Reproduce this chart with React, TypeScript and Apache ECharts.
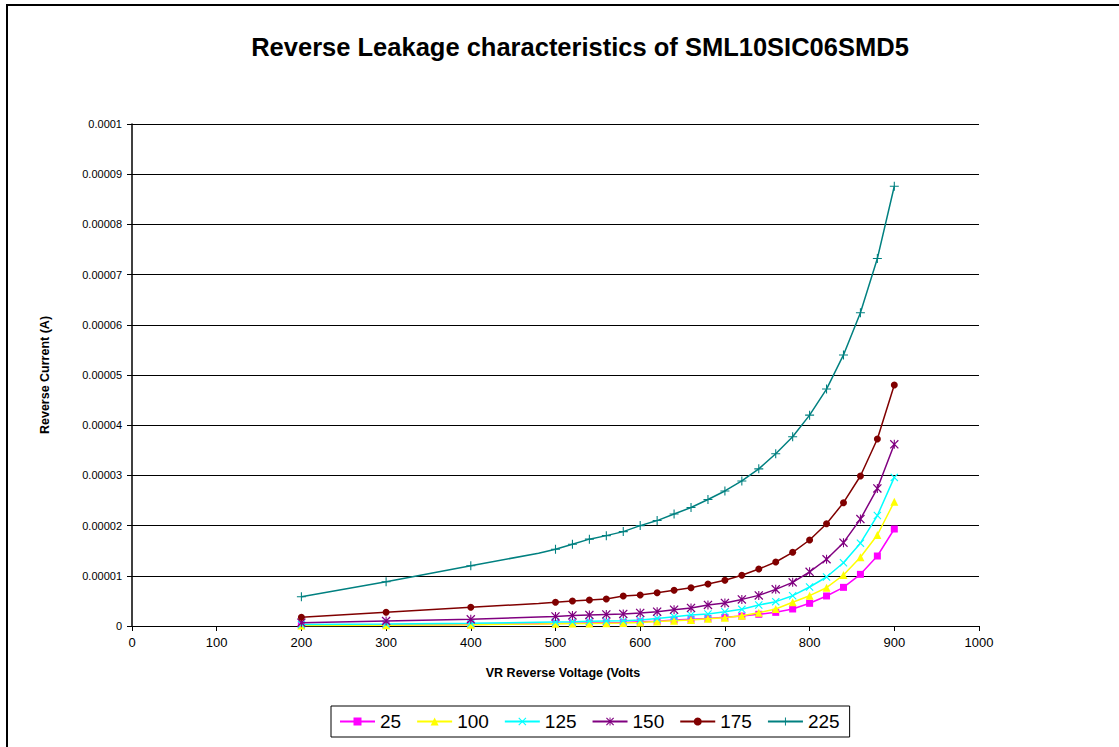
import React, { useEffect, useRef } from "react";
import * as echarts from "echarts";

// Reverse voltage (V); the 480 V point carries no marker in the reference
const voltages = [200, 300, 400, 480, 500, 520, 540, 560, 580, 600, 620, 640, 660, 680, 700, 720, 740, 760, 780, 800, 820, 840, 860, 880, 900];
const hiddenMarkerVoltages = [480];

// Reverse current in microamps (µA) per temperature
const i25 = [0.15, 0.2, 0.3, 0.45, 0.5, 0.55, 0.6, 0.65, 0.7, 0.85, 0.95, 1.2, 1.35, 1.5, 1.73, 1.99, 2.33, 2.72, 3.39, 4.52, 5.98, 7.7, 10.29, 13.94, 19.32];
const i100 = [0.1, 0.15, 0.25, 0.4, 0.45, 0.5, 0.5, 0.55, 0.6, 0.7, 0.9, 1.06, 1.2, 1.46, 1.66, 2.06, 2.66, 3.39, 4.72, 6.04, 7.63, 10.16, 13.68, 18.13, 24.76];
const i125 = [0.3, 0.4, 0.55, 0.75, 0.8, 0.85, 0.95, 1.0, 1.05, 1.2, 1.5, 1.86, 2.19, 2.39, 2.85, 3.32, 4.18, 4.85, 6.04, 7.77, 9.76, 12.6, 16.5, 22.0, 29.6];
const i150 = [0.66, 1.0, 1.33, 1.8, 1.9, 2.1, 2.2, 2.3, 2.4, 2.6, 2.85, 3.25, 3.6, 4.2, 4.6, 5.3, 6.1, 7.3, 8.7, 10.8, 13.3, 16.6, 21.3, 27.4, 36.2];
const i175 = [1.73, 2.73, 3.72, 4.5, 4.72, 4.98, 5.18, 5.38, 5.98, 6.18, 6.64, 7.11, 7.63, 8.37, 9.1, 10.1, 11.35, 12.75, 14.68, 17.13, 20.38, 24.56, 29.88, 37.25, 48.0];
const i225 = [5.84, 8.8, 12.0, 14.5, 15.3, 16.3, 17.3, 18.0, 18.8, 20.0, 21.0, 22.3, 23.6, 25.2, 26.9, 28.9, 31.3, 34.3, 37.7, 42.0, 47.2, 54.0, 62.4, 73.2, 87.6];

const seriesNames = ["25", "100", "125", "150", "175", "225"];
const seriesValues = [i25, i100, i125, i150, i175, i225];
const seriesColors = ["#FF00FF", "#FFFF00", "#00FFFF", "#800080", "#800000", "#008080"];

const X_PATH = "path://M0,1 L1,0 L5,4 L9,0 L10,1 L6,5 L10,9 L9,10 L5,6 L1,10 L0,9 L4,5 Z";
const STAR_PATH = "path://M0,1 L1,0 L5,4 L9,0 L10,1 L6,5 L10,9 L9,10 L5,6 L1,10 L0,9 L4,5 Z M4.4,0 L5.6,0 L5.6,10 L4.4,10 Z";
const PLUS_PATH = "path://M4.4,0 L5.6,0 L5.6,4.4 L10,4.4 L10,5.6 L5.6,5.6 L5.6,10 L4.4,10 L4.4,5.6 L0,5.6 L0,4.4 L4.4,4.4 Z";
const seriesSymbols = ["rect", "triangle", X_PATH, STAR_PATH, "circle", PLUS_PATH];
const seriesSymbolSizes = [7, 8, 8, 9, 7, 9];

const FONT = "'Liberation Sans', Arial, sans-serif";

export default function App() {
  const ref = useRef<HTMLDivElement>(null);
  useEffect(() => {
    if (!ref.current) return;
    const chart = echarts.init(ref.current, undefined, { renderer: "svg" });
    const series = seriesNames.map((name, k) => ({
      name,
      type: "line",
      data: voltages.map((v, i) =>
        hiddenMarkerVoltages.includes(v)
          ? { value: [v, seriesValues[k][i]], symbol: "none" }
          : [v, seriesValues[k][i]]
      ),
      symbol: seriesSymbols[k],
      symbolSize: seriesSymbolSizes[k],
      showAllSymbol: true,
      lineStyle: { color: seriesColors[k], width: 1.5 },
      itemStyle: { color: seriesColors[k] },
      z: 2 + k,
    }));
    chart.setOption({
      animation: false,
      backgroundColor: "#fff",
      title: {
        text: "Reverse Leakage characteristics of SML10SIC06SMD5",
        left: 575,
        textAlign: "center",
        top: 29,
        textStyle: { fontSize: 25.5, fontWeight: "bold", color: "#000", fontFamily: FONT },
      },
      graphic: [
        {
          type: "rect",
          shape: { x: 7, y: 5, width: 1400, height: 1000 },
          style: { fill: "none", stroke: "#000", lineWidth: 2 },
          silent: true,
        },
      ],
      grid: { left: 132, right: 140, top: 124, bottom: 121, containLabel: false },
      legend: {
        left: 331,
        top: 706,
        padding: [6, 10, 6, 8],
        itemGap: 15,
        itemWidth: 35,
        itemHeight: 10,
        borderColor: "#000",
        borderWidth: 1,
        textStyle: { fontSize: 19, color: "#000", fontFamily: FONT },
        data: seriesNames,
      },
      xAxis: {
        type: "value",
        min: 0,
        max: 1000,
        interval: 100,
        name: "VR Reverse Voltage (Volts",
        nameLocation: "middle",
        nameGap: 40,
        nameTextStyle: { fontSize: 12.5, fontWeight: "bold", color: "#000", fontFamily: FONT, padding: [0, 0, 0, 15] },
        axisLine: { lineStyle: { color: "#000", width: 1 } },
        axisTick: { show: true, length: 5, inside: false, lineStyle: { color: "#000" } },
        axisLabel: {
          fontSize: 13,
          color: "#000",
          fontFamily: FONT,
          margin: 10,
          formatter: (v: number) => String(v),
        },
        splitLine: { show: false },
      },
      yAxis: {
        type: "value",
        min: 0,
        max: 100,
        interval: 10,
        name: "Reverse Current (A)",
        nameLocation: "middle",
        nameGap: 81,
        nameTextStyle: { fontSize: 12.5, fontWeight: "bold", color: "#000", fontFamily: FONT },
        axisLine: { show: true, lineStyle: { color: "#000", width: 1.5 } },
        axisTick: { show: true, length: 5, inside: false, lineStyle: { color: "#000" } },
        axisLabel: {
          fontSize: 11,
          color: "#000",
          fontFamily: FONT,
          margin: 10,
          formatter: (v: number) => (v === 0 ? "0" : (v / 1e6).toFixed(5).replace(/0+$/, "")),
        },
        splitLine: { show: true, lineStyle: { color: "#000", width: 1 } },
      },
      series,
    });
    return () => chart.dispose();
  }, []);
  return (
    <div
      ref={ref}
      style={{ position: "absolute", left: 0, top: 0, width: 1119, height: 747 }}
    />
  );
}
